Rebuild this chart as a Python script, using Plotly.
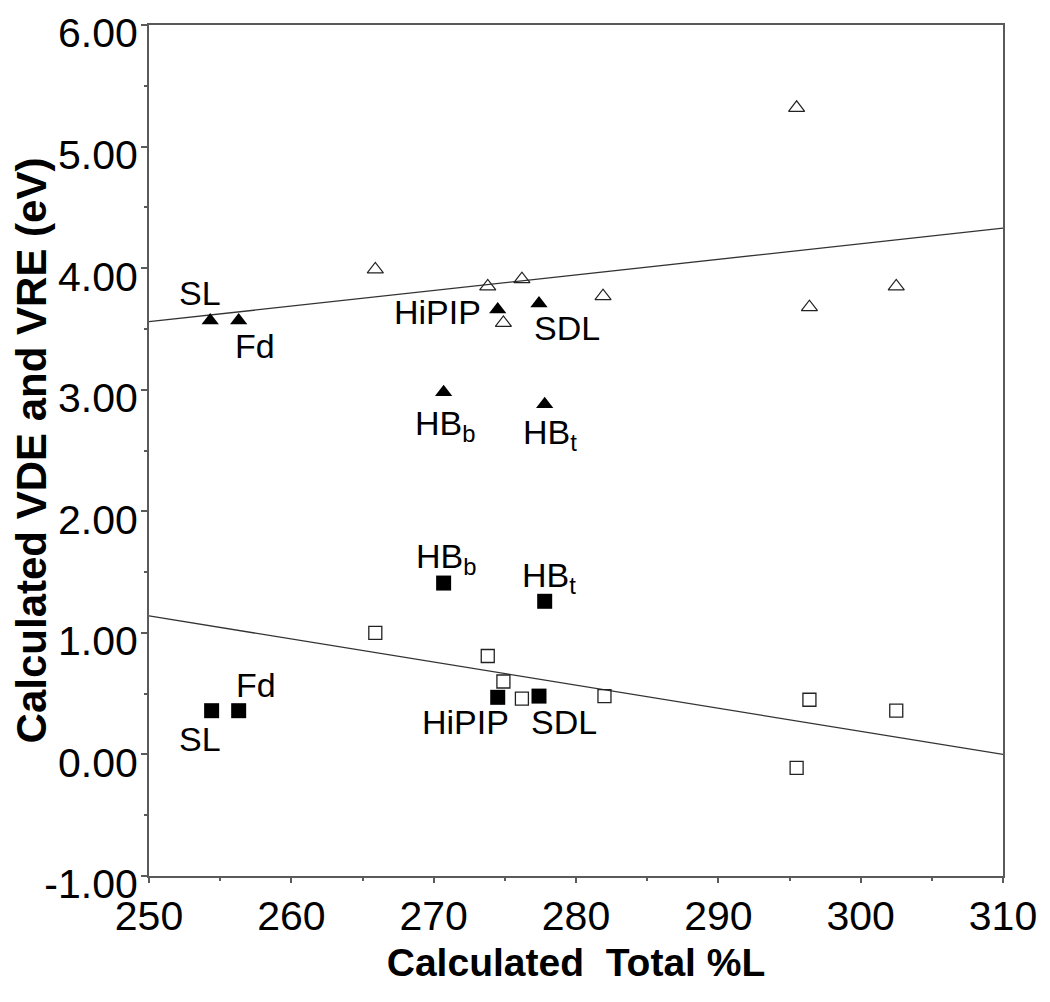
import plotly.graph_objects as go

# open symbols (reference set)
open_tri_x = [265.9, 273.8, 276.2, 274.9, 281.9, 295.5, 296.4, 302.5]
open_tri_y = [3.99, 3.85, 3.91, 3.55, 3.77, 5.32, 3.68, 3.85]
open_sq_x = [265.9, 273.8, 274.9, 276.2, 282.0, 296.4, 302.5, 295.5]
open_sq_y = [1.00, 0.81, 0.60, 0.46, 0.48, 0.45, 0.36, -0.11]

# filled symbols (labelled proteins)
labels = ["SL", "Fd", "HiPIP", "SDL", "HB<sub>b</sub>", "HB<sub>t</sub>"]
filled_tri_x = [254.3, 256.3, 274.5, 277.4, 270.7, 277.8]
filled_tri_y = [3.57, 3.57, 3.66, 3.71, 2.98, 2.88]
filled_sq_x = [254.4, 256.3, 274.5, 277.4, 270.7, 277.8]
filled_sq_y = [0.36, 0.36, 0.47, 0.48, 1.41, 1.26]

# trend lines
trend_x = [250, 310]
tri_trend_y = [3.56, 4.33]
sq_trend_y = [1.14, 0.00]

x_tick_vals = [250, 260, 270, 280, 290, 300, 310]
y_tick_vals = [-1, 0, 1, 2, 3, 4, 5, 6]
y_tick_text = ["-1.00", "0.00", "1.00", "2.00", "3.00", "4.00", "5.00", "6.00"]

FONT = "Liberation Sans, Arial, Helvetica, sans-serif"
AXIS_COLOR = "#5a5a5a"

# label offsets in pixels (xshift, yshift) relative to each point
tri_offsets = [(-10, 28), (16, -25), (-60, -2), (28, -25), (1, -33), (5, -30)]
sq_offsets = [(-12, -28), (17, 26), (-32, -25), (25, -26), (2, 25), (4, 24)]

fig = go.Figure()

for ty in (tri_trend_y, sq_trend_y):
    fig.add_trace(go.Scatter(
        x=trend_x, y=ty, mode="lines",
        line=dict(color="#333333", width=1.3),
        showlegend=False, hoverinfo="skip",
    ))

fig.add_trace(go.Scatter(
    x=open_tri_x, y=open_tri_y, mode="markers",
    marker=dict(symbol="triangle-up-open", size=14, color="#222222", line=dict(width=1.2)),
    showlegend=False,
))
fig.add_trace(go.Scatter(
    x=open_sq_x, y=open_sq_y, mode="markers",
    marker=dict(symbol="square-open", size=13, color="#222222", line=dict(width=1.3)),
    showlegend=False,
))
fig.add_trace(go.Scatter(
    x=filled_tri_x, y=filled_tri_y, mode="markers",
    marker=dict(symbol="triangle-up", size=15, color="black"),
    showlegend=False,
))
fig.add_trace(go.Scatter(
    x=filled_sq_x, y=filled_sq_y, mode="markers",
    marker=dict(symbol="square", size=15, color="black"),
    showlegend=False,
))

annotations = []
for xs, ys, offs in ((filled_tri_x, filled_tri_y, tri_offsets), (filled_sq_x, filled_sq_y, sq_offsets)):
    for lab, x, y, (dx, dy) in zip(labels, xs, ys, offs):
        annotations.append(dict(
            x=x, y=y, text=lab, showarrow=False,
            xshift=dx, yshift=dy,
            font=dict(family=FONT, size=34, color="black"),
        ))

# page body adds an 8px offset, so the figure is 8px smaller than the window
fig.update_layout(
    width=1042,
    height=994,
    margin=dict(l=141, r=47, t=17, b=126),
    paper_bgcolor="white",
    plot_bgcolor="white",
    annotations=annotations,
    font=dict(family=FONT, color="black"),
)

fig.update_xaxes(
    range=[250, 310],
    tickvals=x_tick_vals,
    ticks="outside", ticklen=5, tickwidth=1.5, tickcolor=AXIS_COLOR,
    minor=dict(dtick=5, tick0=250, ticks="outside", ticklen=3, tickcolor=AXIS_COLOR),
    showline=True, linecolor=AXIS_COLOR, linewidth=2, mirror=True,
    showgrid=False, zeroline=False, automargin=False,
    tickfont=dict(family=FONT, size=41, color="black"),
    ticklabelstandoff=-2,
    title=dict(text="<b>Calculated  Total %L</b>", font=dict(family=FONT, size=39, color="black"), standoff=10),
)
fig.update_yaxes(
    range=[-1, 6.001],
    tickvals=y_tick_vals, ticktext=y_tick_text,
    ticks="outside", ticklen=6, tickwidth=1.5, tickcolor=AXIS_COLOR,
    minor=dict(dtick=0.5, tick0=0, ticks="outside", ticklen=3, tickcolor=AXIS_COLOR),
    showline=True, linecolor=AXIS_COLOR, linewidth=2, mirror=True,
    showgrid=False, zeroline=False, automargin=False,
    tickfont=dict(family=FONT, size=41, color="black"),
    ticklabelshift=8, ticklabelstandoff=-5, ticklabeloverflow="allow",
    title=dict(text="<b>Calculated VDE and VRE (eV)</b>", font=dict(family=FONT, size=42, color="black"), standoff=3),
)

fig.write_html("out.html")
